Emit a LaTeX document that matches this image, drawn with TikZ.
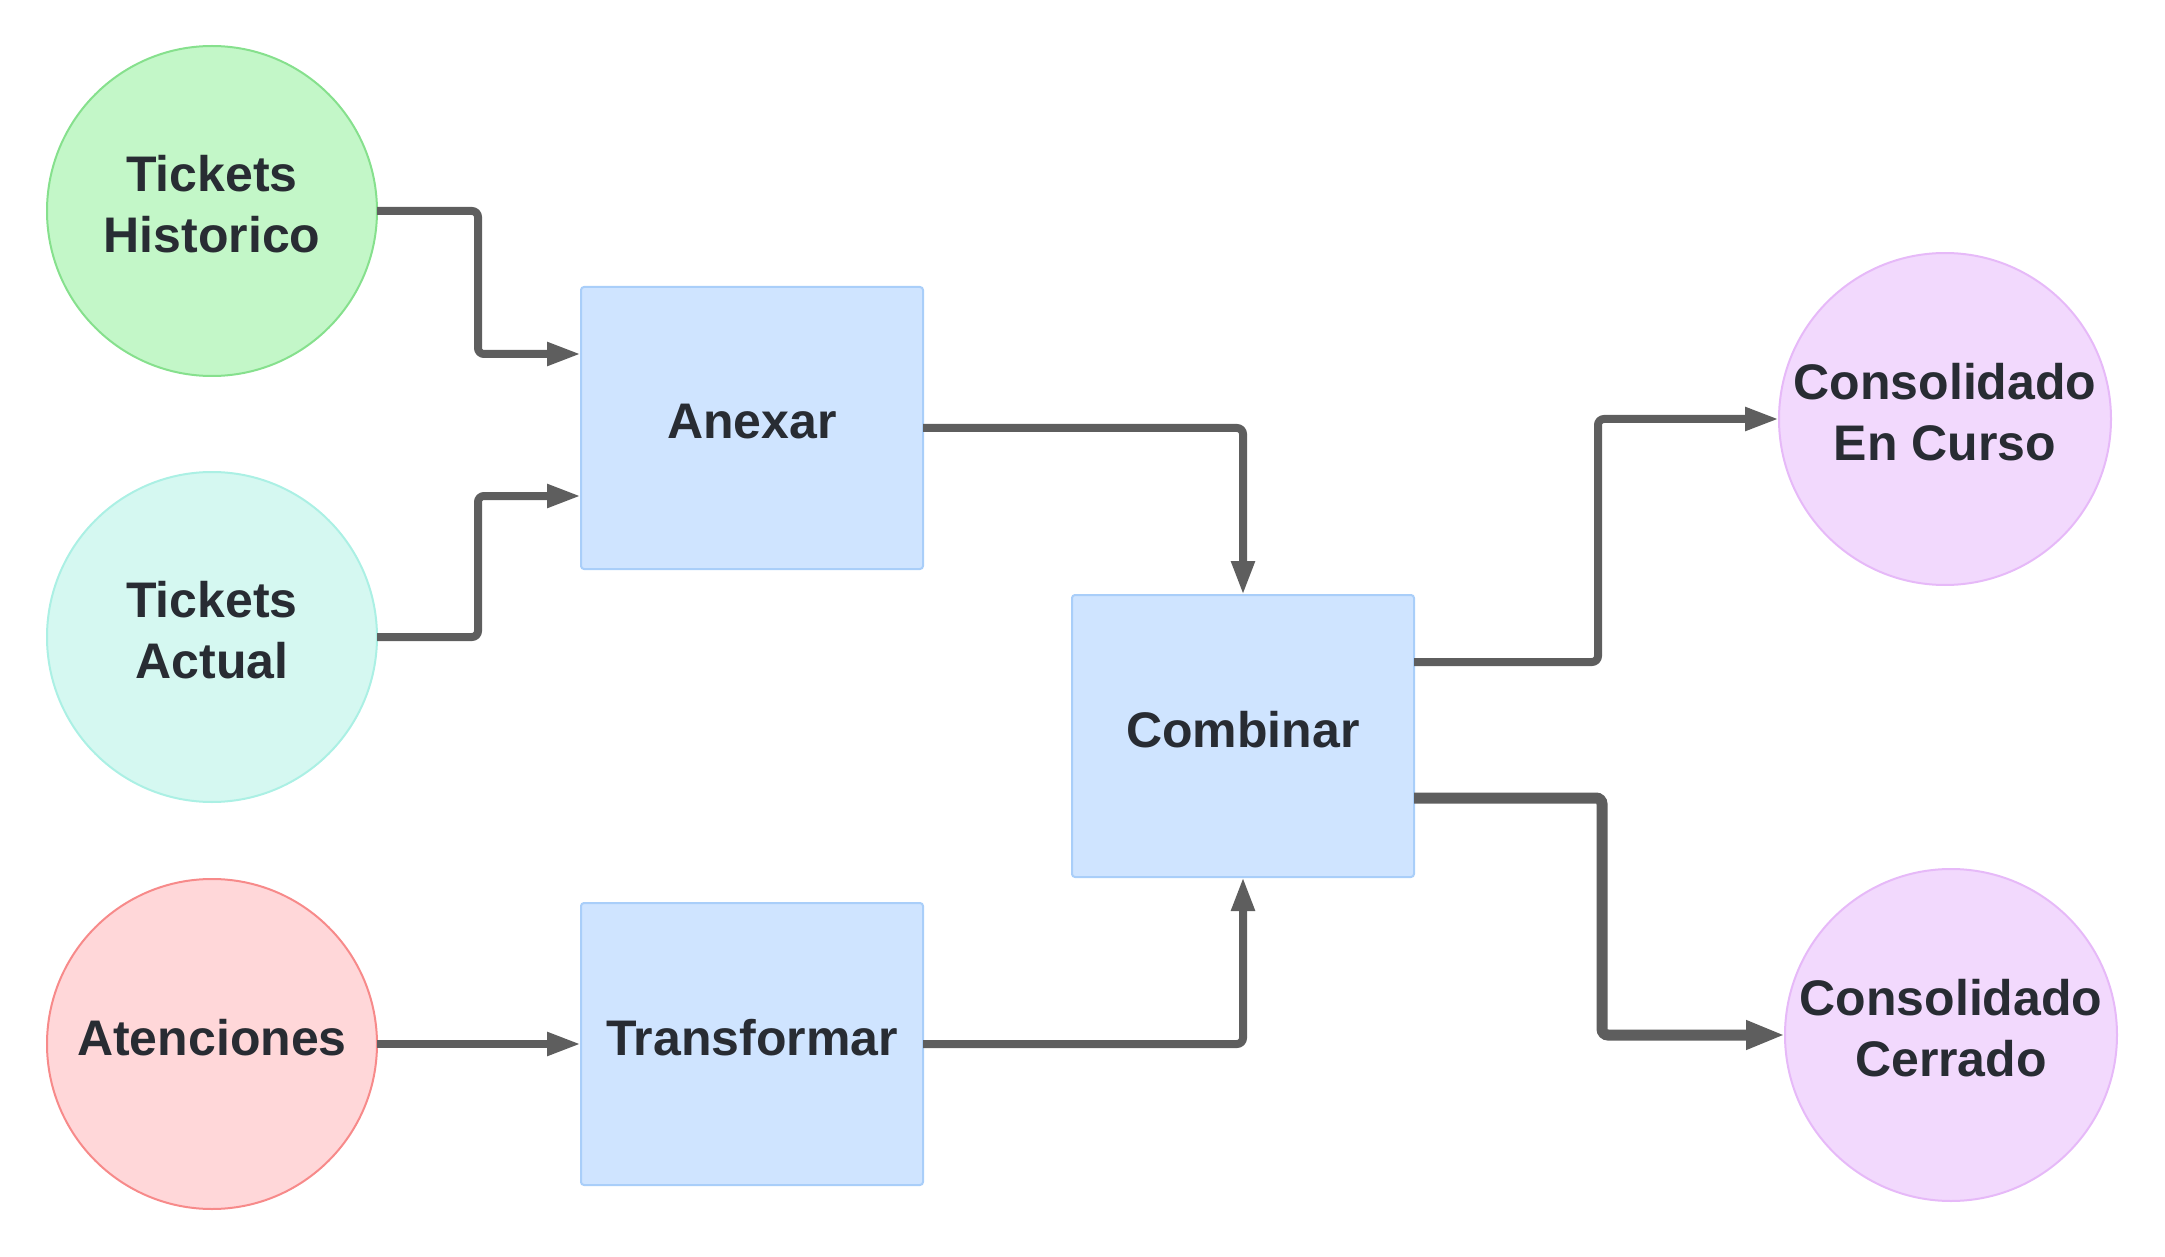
\documentclass[tikz,border=0pt]{standalone}
\usepackage{fontspec}
\setmainfont{Liberation Sans}
\usetikzlibrary{positioning, shapes.geometric, arrows.meta, calc}

\definecolor{lineGray}{HTML}{5E5E5E}
\definecolor{textDark}{HTML}{282C33}
\definecolor{boxFill}{HTML}{CFE4FF}
\definecolor{boxLine}{HTML}{A9CEF9}
\definecolor{greenFill}{HTML}{C3F7C8}
\definecolor{greenLine}{HTML}{86E08D}
\definecolor{tealFill}{HTML}{D5F8F1}
\definecolor{tealLine}{HTML}{ABF0E4}
\definecolor{redFill}{HTML}{FFD7D9}
\definecolor{redLine}{HTML}{F78A8A}
\definecolor{purpleFill}{HTML}{F2D9FD}
\definecolor{purpleLine}{HTML}{E6B9F8}

\begin{document}
\begin{tikzpicture}[
            box/.style={
                rectangle,
                rounded corners=1.5pt,
                draw=boxLine,
                fill=boxFill,
                line width=1pt,
                minimum height=141pt,
                minimum width=171pt,
                outer sep=0pt,
                align=center,
                text depth=7pt,
                text=textDark,
                font=\fontsize{25}{30.5}\selectfont\bfseries
            },
            source/.style={
                circle,
                line width=1pt,
                minimum size=165pt,
                inner sep=0pt,
                outer sep=0pt,
                align=center,
                text depth=7pt,
                text=textDark,
                font=\fontsize{25}{30.5}\selectfont\bfseries
            },
            arrow/.style={-{Triangle[length=17pt, width=11pt]}, line width=4pt,
                draw=lineGray, rounded corners=3pt}
        ]

        \useasboundingbox (0,0) rectangle (1082.5pt,-628.5pt);

        % Nodes
        \node[source, draw=greenLine, fill=greenFill] (Historico) at (106pt,-105.5pt) {Tickets\\Historico};
        \node[source, draw=tealLine, fill=tealFill, below=48pt of Historico] (Actual) {Tickets\\Actual};
        \node[source, draw=redLine, fill=redFill, below=38.5pt of Actual] (Atenciones) {Atenciones};
        \node[box, right=102pt of Atenciones] (Transformar) {Transformar};
        \node[box, above=167pt of Transformar] (Anexar) {Anexar};
        \coordinate (mid) at ($(Anexar.east)!0.5!(Transformar.east)$);
        \node[box, right=74.5pt of mid] (Combinar) {Combinar};
        \node[source, minimum size=166pt, draw=purpleLine, fill=purpleFill,
              right=182.5pt of Combinar, yshift=158.5pt] (EnCurso) {Consolidado\\En Curso};
        \node[source, minimum size=166pt, draw=purpleLine, fill=purpleFill,
              right=185.5pt of Combinar, yshift=-149.5pt] (Cerrado) {Consolidado\\Cerrado};

        % Arrows
        \draw[arrow] (Historico.east) -- ++(50.5pt,0) |- ([yshift=37pt]Anexar.west);
        \draw[arrow] (Actual.east) -- ++(50.5pt,0) |- ([yshift=-34pt]Anexar.west);
        \draw[arrow] (Atenciones) -- (Transformar);
        \draw[arrow] (Anexar) -| (Combinar);
        \draw[arrow] (Transformar) -| (Combinar);
        \draw[arrow] ([yshift=37pt]Combinar.east) -- ++(92pt,0) |- (EnCurso);
        \draw[arrow, line width=5.5pt, -{Triangle[length=19.5pt, width=13.5pt]}]
            ([yshift=-31pt]Combinar.east) -- ++(94pt,0) |- (Cerrado);

\end{tikzpicture}
\end{document}
